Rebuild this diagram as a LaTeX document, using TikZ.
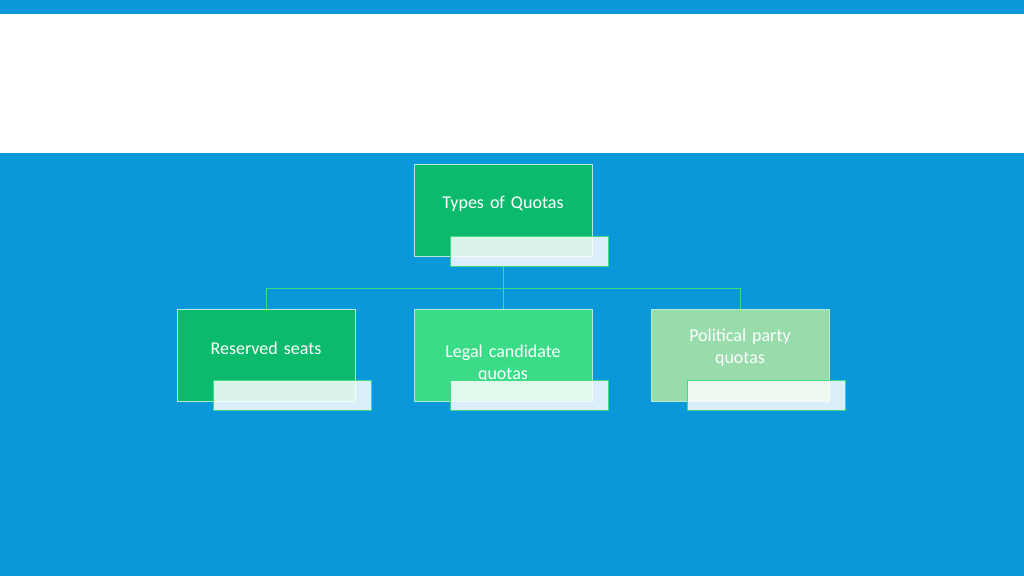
\documentclass[tikz,border=0pt]{standalone}
\usepackage{fontspec}
\setmainfont{Carlito}
\usetikzlibrary{positioning}
\definecolor{skyblue}{HTML}{0B98DB}
\definecolor{darkgreen}{HTML}{0BBA6C}
\definecolor{midgreen}{HTML}{3BDC88}
\definecolor{palegreen}{HTML}{97DCAA}
\begin{document}
\begin{tikzpicture}[x=1pt,y=-1pt]
	% formatos
	\tikzset{box/.style={draw=white!70!darkgreen, thin, minimum width=178pt, minimum height=92pt, inner sep=0pt}}
	\tikzset{tab/.style={draw=midgreen, fill=white, fill opacity=0.85, minimum width=158pt, minimum height=30pt, inner sep=0pt}}
	\tikzset{label/.style={text=white, font=\fontsize{18}{22}\selectfont, align=center, text width=150pt}}
	\tikzset{link/.style={draw=midgreen, thin}}
	% fondo
	\fill[skyblue] (0,0) rectangle (1024,576);
	\fill[white] (0,14) rectangle (1024,153);
	\useasboundingbox (0,0) rectangle (1024,576);
	% nodos
	\node [box, fill=darkgreen] (types) at (503,210) {};
	\node [box, fill=darkgreen] (reserved) at (266,355) {};
	\node [box, fill=midgreen] (legal) at (503,355) {};
	\node [box, fill=palegreen] (party) at (740,355) {};
	\node [label] (types_t) at (503,204) {Types of Quotas};
	\node [label] (reserved_t) at (266,348) {Reserved seats};
	\node [label] (legal_t) at (503,364) {Legal candidate\\quotas};
	\node [label] (party_t) at (740,348) {Political party\\quotas};
	\node [tab] (types_tab) at (529.5,251) {};
	\node [tab] (reserved_tab) at (292.5,395.5) {};
	\node [tab] (legal_tab) at (529.5,395.5) {};
	\node [tab] (party_tab) at (766.5,395.5) {};
	% relaciones
	\coordinate (hub) at (503,288);
	\draw [link] (types_tab.south -| types.south) -- (hub);
	\draw [link] (hub) -| (reserved.north);
	\draw [link] (hub) -- (legal.north);
	\draw [link] (hub) -| (party.north);
\end{tikzpicture}
\end{document}
